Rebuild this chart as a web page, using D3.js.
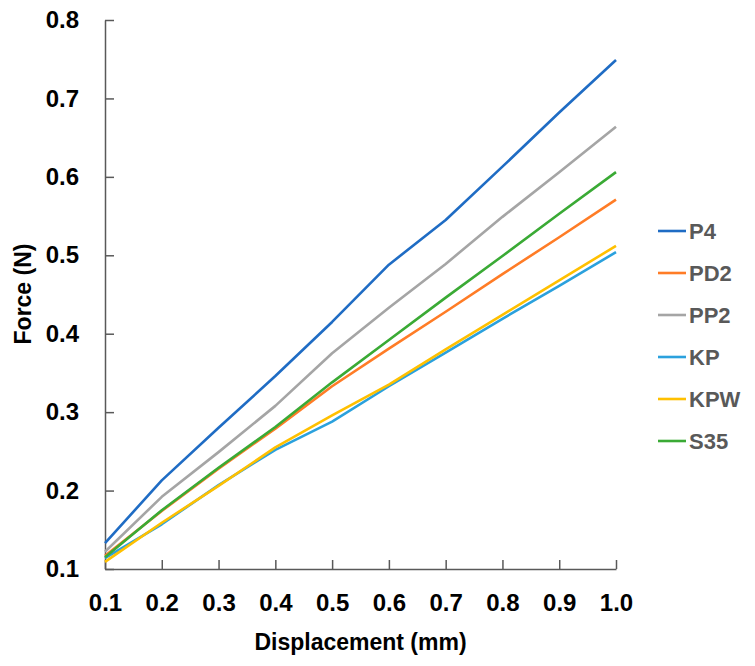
<!DOCTYPE html>
<html>
<head>
<meta charset="utf-8">
<script src="https://cdn.jsdelivr.net/npm/d3@7"></script>
<style>
  body { margin: 0; background: #fff; }
  text { font-family: "Liberation Sans", Arial, sans-serif; font-weight: bold; }
</style>
</head>
<body>
<div id="chart"></div>
<script>
// data
var displacement = [0.1, 0.2, 0.3, 0.4, 0.5, 0.6, 0.7, 0.8, 0.9, 1.0];
var P4  = [0.133, 0.213, 0.280, 0.346, 0.415, 0.488, 0.545, 0.613, 0.682, 0.749];
var PD2 = [0.117, 0.174, 0.228, 0.279, 0.333, 0.381, 0.428, 0.476, 0.523, 0.571];
var PP2 = [0.122, 0.192, 0.249, 0.308, 0.375, 0.433, 0.489, 0.549, 0.606, 0.664];
var KP  = [0.114, 0.157, 0.207, 0.252, 0.288, 0.333, 0.376, 0.419, 0.461, 0.504];
var KPW = [0.109, 0.159, 0.206, 0.255, 0.296, 0.335, 0.380, 0.424, 0.468, 0.512];
var S35 = [0.115, 0.175, 0.229, 0.281, 0.338, 0.392, 0.446, 0.499, 0.553, 0.606];
var seriesNames = ['P4', 'PD2', 'PP2', 'KP', 'KPW', 'S35'];
var seriesValues = [P4, PD2, PP2, KP, KPW, S35];
var yTicks = [0.1, 0.2, 0.3, 0.4, 0.5, 0.6, 0.7, 0.8];

const width = 755
const height = 666
const margin = ({top: 20, right: 139, bottom: 97, left: 105})

var color = d3.scaleOrdinal()
  .domain(seriesNames)
  .range(['#1f6cc4', '#ff7c26', '#a5a5a5', '#2ba1dd', '#ffc000', '#3aaa35']);

var x = d3.scaleLinear()
  .domain([0.1, 1.0])
  .range([margin.left, width - margin.right]);

var y = d3.scaleLinear()
  .domain([0.1, 0.8])
  .range([height - margin.bottom, margin.top]);

const svg = d3.select('#chart').append('svg')
  .attr('width', width)
  .attr('height', height);

// y axis, ticks pointing inward
var yAxis = svg.append('g')
  .attr('transform', `translate(${margin.left},0)`)
  .call(d3.axisLeft(y).tickValues(yTicks).tickFormat(d3.format('.1f'))
    .tickSizeInner(-9).tickSizeOuter(0).tickPadding(26));

// x axis
var xAxis = svg.append('g')
  .attr('transform', `translate(0,${height - margin.bottom})`)
  .call(d3.axisBottom(x).tickValues(displacement).tickFormat(d3.format('.1f'))
    .tickSizeInner(-9).tickSizeOuter(0).tickPadding(25));

svg.selectAll('.domain, .tick line')
  .attr('stroke', '#595959')
  .attr('stroke-width', 1.5);
svg.selectAll('.tick text')
  .attr('fill', '#000')
  .style('font-size', '24px');

var line = d3.line()
  .x((d, i) => x(displacement[i]))
  .y(d => y(d));

svg.selectAll('.series')
  .data(seriesValues)
  .enter().append('path')
  .attr('class', 'series')
  .attr('d', d => line(d))
  .attr('fill', 'none')
  .attr('stroke', (d, i) => color(seriesNames[i]))
  .attr('stroke-width', 2.6)
  .attr('stroke-linejoin', 'round');

// axis titles
svg.append('text')
  .attr('x', (margin.left + width - margin.right) / 2)
  .attr('y', 650)
  .attr('text-anchor', 'middle')
  .attr('fill', '#000')
  .style('font-size', '23px')
  .text('Displacement (mm)');

svg.append('text')
  .attr('transform', 'translate(31,294) rotate(-90)')
  .attr('text-anchor', 'middle')
  .attr('fill', '#000')
  .style('font-size', '23px')
  .text('Force (N)');

// legend
var legend = svg.selectAll('.legend')
  .data(seriesNames)
  .enter().append('g')
  .attr('class', 'legend')
  .attr('transform', (d, i) => `translate(658,${231 + i * 42})`);

legend.append('line')
  .attr('x1', 0).attr('x2', 28)
  .attr('stroke', d => color(d))
  .attr('stroke-width', 2.6);

legend.append('text')
  .attr('x', 31)
  .attr('dy', '0.36em')
  .attr('fill', '#595959')
  .style('font-size', '22px')
  .text(d => d);
</script>
</body>
</html>
